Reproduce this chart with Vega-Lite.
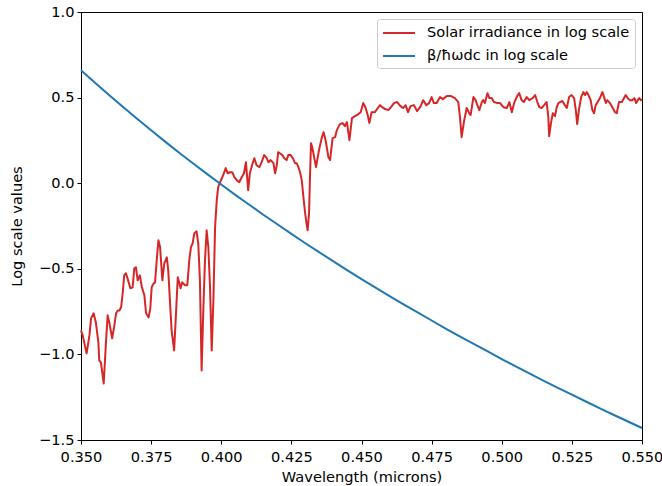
{
  "$schema": "https://vega.github.io/schema/vega-lite/v6.json",
  "width": 561,
  "height": 428,
  "autosize": {"type": "none"},
  "padding": {"left": 81, "top": 12, "right": 20, "bottom": 46},
  "background": "white",
  "config": {
    "font": "DejaVu Sans",
    "view": {"stroke": "black", "strokeWidth": 1},
    "axis": {
      "grid": false,
      "domainColor": "black",
      "domainWidth": 1,
      "tickColor": "black",
      "tickSize": 4,
      "tickWidth": 1,
      "labelColor": "black",
      "labelFont": "DejaVu Sans",
      "labelFontSize": 14.6,
      "labelPadding": 3,
      "labelFlush": false,
      "labelOverlap": false,
      "titleColor": "black",
      "titleFont": "DejaVu Sans",
      "titleFontSize": 14.6,
      "titleFontWeight": "normal"
    },
    "legend": {
      "orient": "top-right",
      "offset": 7,
      "padding": 5,
      "strokeColor": "#cccccc",
      "fillColor": "rgba(255,255,255,0.8)",
      "cornerRadius": 3,
      "labelFont": "DejaVu Sans",
      "labelFontSize": 14.6,
      "labelColor": "black",
      "labelLimit": 0,
      "labelOffset": 19,
      "symbolType": "M-2,0H2",
      "symbolSize": 256,
      "symbolOffset": 8,
      "symbolStrokeWidth": 2,
      "rowPadding": 7,
      "title": null
    }
  },
  "datasets": {
    "solar": [
      {"w": 0.3500, "v": -0.860}, {"w": 0.3506, "v": -0.889}, {"w": 0.3520, "v": -0.994}, {"w": 0.3530, "v": -0.889},
      {"w": 0.3536, "v": -0.789}, {"w": 0.3545, "v": -0.760}, {"w": 0.3553, "v": -0.813}, {"w": 0.3562, "v": -0.930},
      {"w": 0.3565, "v": -1.035}, {"w": 0.3571, "v": -1.047}, {"w": 0.3581, "v": -1.170}, {"w": 0.3589, "v": -0.930},
      {"w": 0.3595, "v": -0.772}, {"w": 0.3601, "v": -0.813}, {"w": 0.3611, "v": -0.906}, {"w": 0.3619, "v": -0.830},
      {"w": 0.3625, "v": -0.760}, {"w": 0.3631, "v": -0.743}, {"w": 0.3637, "v": -0.743}, {"w": 0.3643, "v": -0.725},
      {"w": 0.3649, "v": -0.637}, {"w": 0.3654, "v": -0.538}, {"w": 0.3660, "v": -0.526}, {"w": 0.3666, "v": -0.556},
      {"w": 0.3676, "v": -0.614}, {"w": 0.3684, "v": -0.608}, {"w": 0.3690, "v": -0.497}, {"w": 0.3696, "v": -0.491},
      {"w": 0.3702, "v": -0.567}, {"w": 0.3710, "v": -0.538}, {"w": 0.3717, "v": -0.608}, {"w": 0.3726, "v": -0.655},
      {"w": 0.3732, "v": -0.760}, {"w": 0.3741, "v": -0.784}, {"w": 0.3747, "v": -0.731}, {"w": 0.3752, "v": -0.608},
      {"w": 0.3759, "v": -0.585}, {"w": 0.3764, "v": -0.579}, {"w": 0.3770, "v": -0.450}, {"w": 0.3776, "v": -0.333},
      {"w": 0.3782, "v": -0.374}, {"w": 0.3790, "v": -0.567}, {"w": 0.3797, "v": -0.468}, {"w": 0.3806, "v": -0.433},
      {"w": 0.3811, "v": -0.509}, {"w": 0.3817, "v": -0.684}, {"w": 0.3823, "v": -0.860}, {"w": 0.3832, "v": -0.977},
      {"w": 0.3838, "v": -0.784}, {"w": 0.3845, "v": -0.550}, {"w": 0.3850, "v": -0.579}, {"w": 0.3855, "v": -0.614},
      {"w": 0.3861, "v": -0.579}, {"w": 0.3871, "v": -0.596}, {"w": 0.3879, "v": -0.596}, {"w": 0.3886, "v": -0.450},
      {"w": 0.3892, "v": -0.374}, {"w": 0.3898, "v": -0.351}, {"w": 0.3904, "v": -0.292}, {"w": 0.3912, "v": -0.281},
      {"w": 0.3918, "v": -0.351}, {"w": 0.3924, "v": -0.567}, {"w": 0.3930, "v": -1.094}, {"w": 0.3936, "v": -0.743},
      {"w": 0.3942, "v": -0.450}, {"w": 0.3948, "v": -0.275}, {"w": 0.3954, "v": -0.374}, {"w": 0.3960, "v": -0.608},
      {"w": 0.3966, "v": -0.977}, {"w": 0.3972, "v": -0.684}, {"w": 0.3978, "v": -0.257}, {"w": 0.3984, "v": -0.099},
      {"w": 0.3989, "v": -0.023}, {"w": 0.3996, "v": 0.006}, {"w": 0.4002, "v": 0.029}, {"w": 0.4007, "v": 0.047},
      {"w": 0.4016, "v": 0.088}, {"w": 0.4023, "v": 0.058}, {"w": 0.4031, "v": 0.064}, {"w": 0.4039, "v": 0.064},
      {"w": 0.4047, "v": 0.035}, {"w": 0.4055, "v": 0.018}, {"w": 0.4064, "v": 0.006}, {"w": 0.4073, "v": 0.035},
      {"w": 0.4081, "v": 0.058}, {"w": 0.4088, "v": 0.123}, {"w": 0.4096, "v": -0.041}, {"w": 0.4102, "v": 0.058},
      {"w": 0.4112, "v": 0.117}, {"w": 0.4118, "v": 0.146}, {"w": 0.4126, "v": 0.105}, {"w": 0.4136, "v": 0.094},
      {"w": 0.4144, "v": 0.123}, {"w": 0.4153, "v": 0.164}, {"w": 0.4162, "v": 0.146}, {"w": 0.4168, "v": 0.123},
      {"w": 0.4176, "v": 0.135}, {"w": 0.4186, "v": 0.117}, {"w": 0.4192, "v": 0.058}, {"w": 0.4198, "v": 0.105},
      {"w": 0.4203, "v": 0.181}, {"w": 0.4209, "v": 0.175}, {"w": 0.4218, "v": 0.164}, {"w": 0.4225, "v": 0.146},
      {"w": 0.4233, "v": 0.135}, {"w": 0.4239, "v": 0.164}, {"w": 0.4248, "v": 0.164}, {"w": 0.4255, "v": 0.146},
      {"w": 0.4263, "v": 0.117}, {"w": 0.4269, "v": 0.117}, {"w": 0.4275, "v": 0.094}, {"w": 0.4281, "v": 0.064},
      {"w": 0.4287, "v": 0.018}, {"w": 0.4293, "v": -0.082}, {"w": 0.4299, "v": -0.175}, {"w": 0.4305, "v": -0.246},
      {"w": 0.4308, "v": -0.275}, {"w": 0.4313, "v": -0.175}, {"w": 0.4316, "v": 0.018}, {"w": 0.4320, "v": 0.234},
      {"w": 0.4325, "v": 0.205}, {"w": 0.4332, "v": 0.146}, {"w": 0.4338, "v": 0.094}, {"w": 0.4344, "v": 0.152},
      {"w": 0.4350, "v": 0.205}, {"w": 0.4358, "v": 0.263}, {"w": 0.4365, "v": 0.298}, {"w": 0.4372, "v": 0.251},
      {"w": 0.4382, "v": 0.152}, {"w": 0.4388, "v": 0.135}, {"w": 0.4397, "v": 0.263}, {"w": 0.4406, "v": 0.269},
      {"w": 0.4412, "v": 0.310}, {"w": 0.4423, "v": 0.345}, {"w": 0.4433, "v": 0.351}, {"w": 0.4441, "v": 0.333},
      {"w": 0.4448, "v": 0.357}, {"w": 0.4457, "v": 0.251}, {"w": 0.4466, "v": 0.380}, {"w": 0.4477, "v": 0.392},
      {"w": 0.4489, "v": 0.404}, {"w": 0.4497, "v": 0.415}, {"w": 0.4506, "v": 0.468}, {"w": 0.4515, "v": 0.439},
      {"w": 0.4522, "v": 0.398}, {"w": 0.4528, "v": 0.351}, {"w": 0.4536, "v": 0.415}, {"w": 0.4548, "v": 0.415},
      {"w": 0.4558, "v": 0.439}, {"w": 0.4566, "v": 0.456}, {"w": 0.4574, "v": 0.444}, {"w": 0.4584, "v": 0.433},
      {"w": 0.4596, "v": 0.427}, {"w": 0.4605, "v": 0.444}, {"w": 0.4616, "v": 0.468}, {"w": 0.4627, "v": 0.474},
      {"w": 0.4639, "v": 0.450}, {"w": 0.4648, "v": 0.439}, {"w": 0.4657, "v": 0.456}, {"w": 0.4666, "v": 0.415},
      {"w": 0.4675, "v": 0.450}, {"w": 0.4687, "v": 0.456}, {"w": 0.4698, "v": 0.421}, {"w": 0.4709, "v": 0.444},
      {"w": 0.4720, "v": 0.485}, {"w": 0.4731, "v": 0.456}, {"w": 0.4741, "v": 0.468}, {"w": 0.4750, "v": 0.503},
      {"w": 0.4758, "v": 0.468}, {"w": 0.4768, "v": 0.468}, {"w": 0.4780, "v": 0.503}, {"w": 0.4790, "v": 0.491},
      {"w": 0.4804, "v": 0.509}, {"w": 0.4819, "v": 0.509}, {"w": 0.4833, "v": 0.497}, {"w": 0.4845, "v": 0.474},
      {"w": 0.4851, "v": 0.386}, {"w": 0.4857, "v": 0.269}, {"w": 0.4865, "v": 0.357}, {"w": 0.4875, "v": 0.439},
      {"w": 0.4884, "v": 0.409}, {"w": 0.4889, "v": 0.398}, {"w": 0.4899, "v": 0.503}, {"w": 0.4907, "v": 0.485},
      {"w": 0.4913, "v": 0.456}, {"w": 0.4920, "v": 0.427}, {"w": 0.4929, "v": 0.474}, {"w": 0.4934, "v": 0.485},
      {"w": 0.4940, "v": 0.468}, {"w": 0.4949, "v": 0.526}, {"w": 0.4956, "v": 0.497}, {"w": 0.4964, "v": 0.497},
      {"w": 0.4972, "v": 0.474}, {"w": 0.4984, "v": 0.468}, {"w": 0.4994, "v": 0.468}, {"w": 0.5006, "v": 0.444},
      {"w": 0.5018, "v": 0.439}, {"w": 0.5027, "v": 0.474}, {"w": 0.5036, "v": 0.415}, {"w": 0.5044, "v": 0.468},
      {"w": 0.5053, "v": 0.503}, {"w": 0.5062, "v": 0.526}, {"w": 0.5071, "v": 0.485}, {"w": 0.5079, "v": 0.474},
      {"w": 0.5089, "v": 0.503}, {"w": 0.5098, "v": 0.485}, {"w": 0.5110, "v": 0.497}, {"w": 0.5119, "v": 0.515},
      {"w": 0.5127, "v": 0.474}, {"w": 0.5134, "v": 0.444}, {"w": 0.5142, "v": 0.439}, {"w": 0.5151, "v": 0.456},
      {"w": 0.5160, "v": 0.474}, {"w": 0.5166, "v": 0.386}, {"w": 0.5169, "v": 0.275}, {"w": 0.5176, "v": 0.357},
      {"w": 0.5182, "v": 0.409}, {"w": 0.5190, "v": 0.392}, {"w": 0.5196, "v": 0.444}, {"w": 0.5202, "v": 0.468},
      {"w": 0.5208, "v": 0.474}, {"w": 0.5216, "v": 0.480}, {"w": 0.5225, "v": 0.456}, {"w": 0.5232, "v": 0.439},
      {"w": 0.5240, "v": 0.503}, {"w": 0.5249, "v": 0.515}, {"w": 0.5258, "v": 0.497}, {"w": 0.5264, "v": 0.427},
      {"w": 0.5269, "v": 0.345}, {"w": 0.5275, "v": 0.427}, {"w": 0.5283, "v": 0.503}, {"w": 0.5291, "v": 0.532},
      {"w": 0.5297, "v": 0.515}, {"w": 0.5303, "v": 0.532}, {"w": 0.5309, "v": 0.515}, {"w": 0.5317, "v": 0.485},
      {"w": 0.5323, "v": 0.427}, {"w": 0.5329, "v": 0.409}, {"w": 0.5335, "v": 0.456}, {"w": 0.5342, "v": 0.474},
      {"w": 0.5350, "v": 0.497}, {"w": 0.5359, "v": 0.532}, {"w": 0.5366, "v": 0.497}, {"w": 0.5371, "v": 0.468},
      {"w": 0.5376, "v": 0.485}, {"w": 0.5386, "v": 0.468}, {"w": 0.5394, "v": 0.444}, {"w": 0.5404, "v": 0.415},
      {"w": 0.5410, "v": 0.409}, {"w": 0.5418, "v": 0.474}, {"w": 0.5428, "v": 0.474}, {"w": 0.5436, "v": 0.497},
      {"w": 0.5442, "v": 0.515}, {"w": 0.5449, "v": 0.497}, {"w": 0.5457, "v": 0.485}, {"w": 0.5465, "v": 0.485},
      {"w": 0.5473, "v": 0.497}, {"w": 0.5479, "v": 0.468}, {"w": 0.5485, "v": 0.485}, {"w": 0.5490, "v": 0.497},
      {"w": 0.5496, "v": 0.485}, {"w": 0.5500, "v": 0.491}
    ],
    "ratio": [
      {"w": 0.350, "v": 0.660}, {"w": 0.355, "v": 0.587}, {"w": 0.360, "v": 0.515}, {"w": 0.365, "v": 0.445},
      {"w": 0.370, "v": 0.376}, {"w": 0.375, "v": 0.309}, {"w": 0.380, "v": 0.243}, {"w": 0.385, "v": 0.178},
      {"w": 0.390, "v": 0.115}, {"w": 0.395, "v": 0.053}, {"w": 0.400, "v": -0.008}, {"w": 0.405, "v": -0.068},
      {"w": 0.410, "v": -0.126}, {"w": 0.415, "v": -0.184}, {"w": 0.420, "v": -0.240}, {"w": 0.425, "v": -0.296},
      {"w": 0.430, "v": -0.351}, {"w": 0.435, "v": -0.404}, {"w": 0.440, "v": -0.457}, {"w": 0.445, "v": -0.509},
      {"w": 0.450, "v": -0.560}, {"w": 0.455, "v": -0.610}, {"w": 0.460, "v": -0.659}, {"w": 0.465, "v": -0.708},
      {"w": 0.470, "v": -0.755}, {"w": 0.475, "v": -0.802}, {"w": 0.480, "v": -0.849}, {"w": 0.485, "v": -0.894},
      {"w": 0.490, "v": -0.939}, {"w": 0.495, "v": -0.983}, {"w": 0.500, "v": -1.027}, {"w": 0.505, "v": -1.070},
      {"w": 0.510, "v": -1.112}, {"w": 0.515, "v": -1.154}, {"w": 0.520, "v": -1.195}, {"w": 0.525, "v": -1.235},
      {"w": 0.530, "v": -1.275}, {"w": 0.535, "v": -1.315}, {"w": 0.540, "v": -1.354}, {"w": 0.545, "v": -1.392},
      {"w": 0.550, "v": -1.430}
    ]
  },
  "encoding": {
    "x": {
      "field": "w",
      "type": "quantitative",
      "title": "Wavelength (microns)",
      "scale": {"domain": [0.35, 0.55], "nice": false, "zero": false},
      "axis": {"values": [0.35, 0.375, 0.4, 0.425, 0.45, 0.475, 0.5, 0.525, 0.55], "format": ".3f", "labelPadding": 5, "titlePadding": 6}
    },
    "y": {
      "field": "v",
      "type": "quantitative",
      "title": "Log scale values",
      "scale": {"domain": [-1.5, 1.0], "nice": false, "zero": false},
      "axis": {"values": [-1.5, -1.0, -0.5, 0.0, 0.5, 1.0], "format": ".1f", "titlePadding": 14}
    },
    "color": {
      "field": "series",
      "type": "nominal",
      "scale": {
        "domain": ["Solar irradiance in log scale", "β/ħωdc in log scale"],
        "range": ["#d62728", "#1f77b4"]
      }
    }
  },
  "layer": [
    {
      "data": {"name": "solar"},
      "transform": [{"calculate": "'Solar irradiance in log scale'", "as": "series"}],
      "mark": {"type": "line", "strokeWidth": 2, "strokeJoin": "round"}
    },
    {
      "data": {"name": "ratio"},
      "transform": [{"calculate": "'β/ħωdc in log scale'", "as": "series"}],
      "mark": {"type": "line", "strokeWidth": 2, "strokeJoin": "round"}
    }
  ]
}
